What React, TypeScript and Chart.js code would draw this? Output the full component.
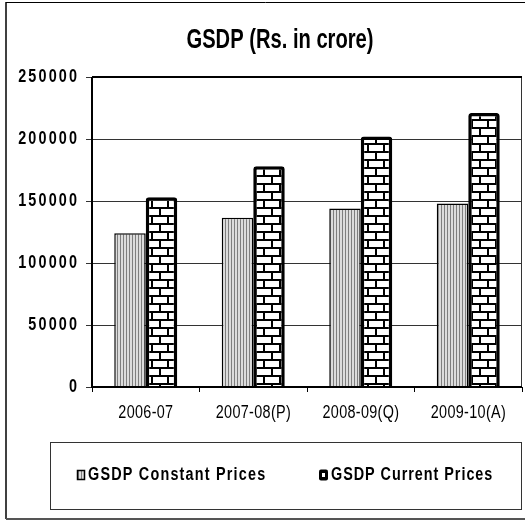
import React, { useEffect, useRef } from "react";
import { Chart, registerables } from "chart.js";

Chart.register(...registerables);

const categories = ["2006-07", "2007-08(P)", "2008-09(Q)", "2009-10(A)"];
const constantPrices = [124000, 136500, 144000, 148000];
const currentPrices = [153000, 178000, 202000, 221000];
const yTickValues = [0, 50000, 100000, 150000, 200000, 250000];
const titleText = "GSDP (Rs. in crore)";
const seriesNames = ["GSDP Constant Prices", "GSDP Current Prices"];

const FONT = '"Liberation Sans", Arial, sans-serif';

function makeStripe(): CanvasPattern | string {
  const c = document.createElement("canvas");
  c.width = 3;
  c.height = 4;
  const g = c.getContext("2d");
  if (!g) return "#ccc";
  g.fillStyle = "#dcdcdc";
  g.fillRect(0, 0, 3, 4);
  g.fillStyle = "#7e7e7e";
  g.fillRect(0, 0, 1, 4);
  const p = g.createPattern(c, "repeat");
  return p || "#ccc";
}

function makeBrick(): CanvasPattern | string {
  const c = document.createElement("canvas");
  c.width = 16;
  c.height = 16;
  const g = c.getContext("2d");
  if (!g) return "#000";
  g.fillStyle = "#000";
  g.fillRect(0, 0, 16, 16);
  g.fillStyle = "#fff";
  g.fillRect(1, 1, 14, 6);
  g.fillRect(9, 9, 7, 6);
  g.fillRect(0, 9, 7, 6);
  const p = g.createPattern(c, "repeat");
  return p || "#000";
}

function drawNarrow(
  ctx: CanvasRenderingContext2D,
  text: string,
  x: number,
  y: number,
  font: string,
  sx: number,
  spacing: number,
  align: "left" | "center" | "right",
  color = "#000"
) {
  ctx.save();
  ctx.font = font;
  (ctx as any).letterSpacing = spacing + "px";
  const w = (ctx.measureText(text).width - spacing) * sx;
  const left = align === "left" ? x : align === "center" ? x - w / 2 : x - w;
  ctx.translate(left, y);
  ctx.scale(sx, 1);
  ctx.textAlign = "left";
  ctx.textBaseline = "middle";
  ctx.fillStyle = color;
  ctx.fillText(text, 0, 0);
  ctx.restore();
}

export default function App() {
  const ref = useRef<HTMLCanvasElement | null>(null);

  useEffect(() => {
    document.body.style.margin = "0";
    const canvas = ref.current;
    if (!canvas) return;
    const stripe = makeStripe();
    const brick = makeBrick();

    const decor = {
      id: "decor",
      afterDraw(chart: any) {
        const ctx: CanvasRenderingContext2D = chart.ctx;
        const { left, right, top, bottom } = chart.chartArea;
        const xs = chart.scales.x;
        const ys = chart.scales.y;
        ctx.save();
        // outer frame
        ctx.strokeStyle = "#404040";
        ctx.lineWidth = 2;
        ctx.beginPath();
        ctx.moveTo(6, 2);
        ctx.lineTo(6, 519);
        ctx.stroke();
        ctx.strokeStyle = "#000";
        ctx.lineWidth = 1;
        ctx.beginPath();
        ctx.moveTo(6, 2.5);
        ctx.lineTo(525, 2.5);
        ctx.stroke();
        ctx.strokeStyle = "#555";
        ctx.lineWidth = 2;
        ctx.beginPath();
        ctx.moveTo(6, 519);
        ctx.lineTo(525, 519);
        ctx.stroke();

        // plot box
        ctx.strokeStyle = "#333";
        ctx.lineWidth = 1;
        ctx.beginPath();
        ctx.moveTo(right - 0.5, top);
        ctx.lineTo(right - 0.5, bottom);
        ctx.stroke();
        ctx.strokeStyle = "#000";
        ctx.lineWidth = 2;
        ctx.beginPath();
        ctx.moveTo(left, top);
        ctx.lineTo(right, top);
        ctx.moveTo(left, top);
        ctx.lineTo(left, bottom);
        ctx.moveTo(left - 1, bottom);
        ctx.lineTo(right, bottom);
        ctx.stroke();
        ctx.restore();

        // y tick labels
        yTickValues.forEach((v) => {
          const py = ys.getPixelForValue(v);
          drawNarrow(ctx, String(v), 77, py, `bold 18px ${FONT}`, 0.8, 2.7, "right");
        });

        // x labels
        categories.forEach((c, i) => {
          const px = xs.getPixelForValue(i);
          drawNarrow(ctx, c, px, 413, `18px ${FONT}`, 0.8, 0.4, "center");
        });

        // title
        drawNarrow(ctx, titleText, 280, 40, `bold 28px ${FONT}`, 0.72, 0, "center");

        // legend box
        ctx.save();
        ctx.strokeStyle = "#333";
        ctx.lineWidth = 1;
        ctx.strokeRect(50.5, 442.5, 471, 67);
        // constant marker
        ctx.fillStyle = stripe as any;
        ctx.fillRect(77, 470, 8, 10);
        ctx.strokeStyle = "#000";
        ctx.lineWidth = 1.5;
        ctx.strokeRect(77.5, 470.5, 7, 9);
        // current marker
        ctx.fillStyle = "#000";
        ctx.beginPath();
        (ctx as any).roundRect(319, 469.5, 9, 11, 2);
        ctx.fill();
        ctx.fillStyle = "#fff";
        ctx.fillRect(322, 473, 3, 4);
        ctx.restore();
        drawNarrow(ctx, seriesNames[0], 88, 475, `bold 18px ${FONT}`, 0.8, 1.5, "left");
        drawNarrow(ctx, seriesNames[1], 331, 475, `bold 18px ${FONT}`, 0.8, 1.2, "left");
      },
    };

    const chart = new Chart(canvas, {
      type: "bar",
      data: {
        labels: categories,
        datasets: [
          {
            label: seriesNames[0],
            data: constantPrices,
            backgroundColor: stripe as any,
            borderColor: "#000",
            borderWidth: 1.5,
            barPercentage: 1,
            categoryPercentage: 0.586,
          },
          {
            label: seriesNames[1],
            data: currentPrices,
            backgroundColor: brick as any,
            borderColor: "#000",
            borderWidth: 3.5,
            borderRadius: { topLeft: 3, topRight: 3, bottomLeft: 0, bottomRight: 0 },
            borderSkipped: "bottom",
            barPercentage: 1,
            categoryPercentage: 0.586,
          },
        ],
      },
      options: {
        responsive: false,
        animation: false,
        devicePixelRatio: 1,
        events: [],
        layout: { padding: { left: 86, right: 3, top: 77, bottom: 128 } },
        plugins: {
          legend: { display: false },
          title: { display: false },
          tooltip: { enabled: false },
        },
        scales: {
          x: {
            grid: {
              offset: true,
              drawOnChartArea: false,
              drawTicks: true,
              tickLength: 5,
              color: "#000",
            },
            border: { display: false },
            ticks: { display: false },
            afterFit: (s: any) => {
              s.height = 5;
            },
          },
          y: {
            min: 0,
            max: 250000,
            grid: { color: "#333", lineWidth: 1, drawTicks: true, tickLength: 6 },
            border: { display: false },
            ticks: { display: false, stepSize: 50000 },
            afterFit: (s: any) => {
              s.width = 6;
            },
          },
        },
      },
      plugins: [decor],
    });
    return () => chart.destroy();
  }, []);

  return (
    <canvas
      ref={ref}
      width={525}
      height={520}
      style={{ display: "block", width: 525, height: 520 }}
    />
  );
}
